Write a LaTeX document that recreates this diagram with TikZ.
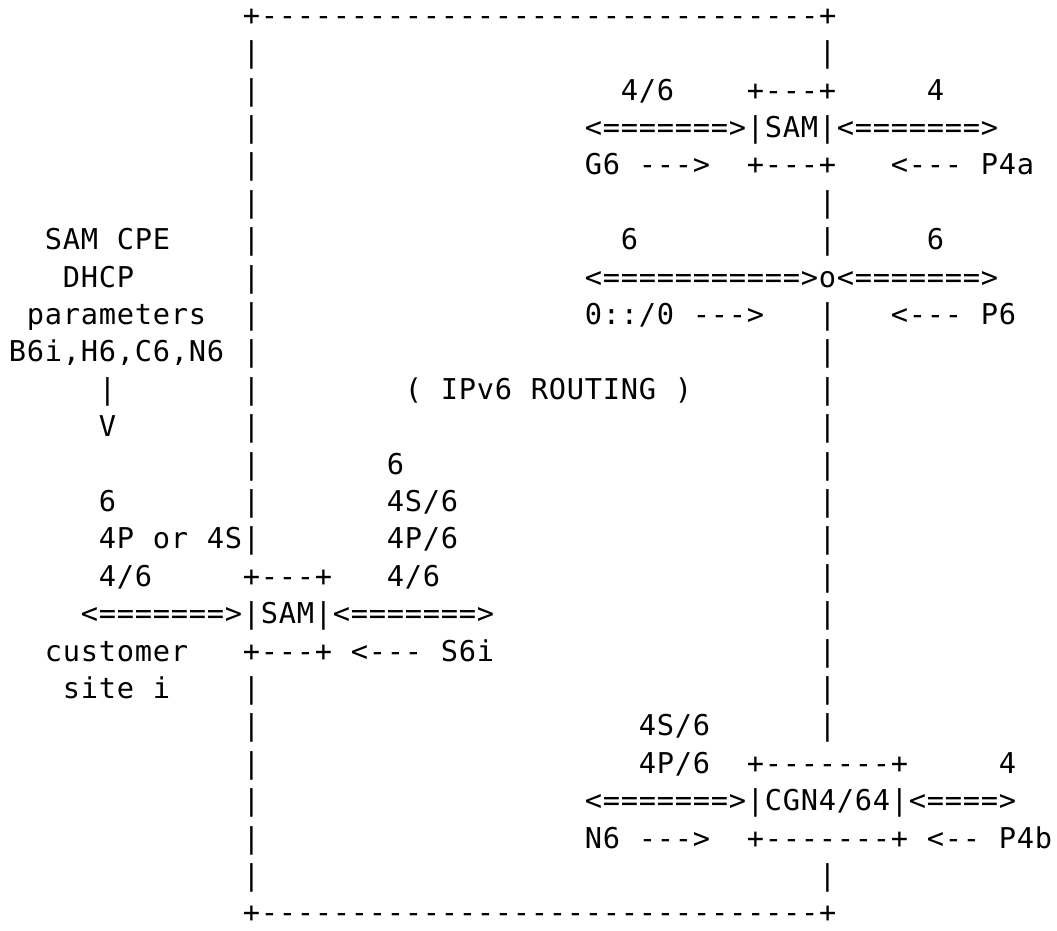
\documentclass[tikz,border=0pt]{standalone}
\usepackage{fontspec}
\setmonofont[LetterSpace=2.6]{DejaVu Sans Mono}
\tikzset{asc/.style={font=\ttfamily\fontsize{21.5pt}{25pt}\selectfont,inner sep=0pt,anchor=west,text height=14pt,text depth=0pt}}

\begin{document}
\begin{tikzpicture}[x=13.5pt,y=-28.05pt]
\useasboundingbox (-0.983,-0.428) rectangle (57.739,24.439);
\node[asc] (r0c13) at (12.5,0) {+-------------------------------+};
\node[asc] (r1c13) at (12.5,1) {|};
\node[asc] (r1c45) at (44.5,1) {|};
\node[asc] (r2c13) at (12.5,2) {|};
\node[asc] (r2c34) at (33.5,2) {4/6};
\node[asc] (r2c41) at (40.5,2) {+---+};
\node[asc] (r2c51) at (50.5,2) {4};
\node[asc] (r3c13) at (12.5,3) {|};
\node[asc] (r3c32) at (31.5,3) {<=======>|SAM|<=======>};
\node[asc] (r4c13) at (12.5,4) {|};
\node[asc] (r4c32) at (31.5,4) {G6};
\node[asc] (r4c35) at (34.5,4) {--->};
\node[asc] (r4c41) at (40.5,4) {+---+};
\node[asc] (r4c49) at (48.5,4) {<---};
\node[asc] (r4c54) at (53.5,4) {P4a};
\node[asc] (r5c13) at (12.5,5) {|};
\node[asc] (r5c45) at (44.5,5) {|};
\node[asc] (r6c2) at (1.5,6) {SAM};
\node[asc] (r6c6) at (5.5,6) {CPE};
\node[asc] (r6c13) at (12.5,6) {|};
\node[asc] (r6c34) at (33.5,6) {6};
\node[asc] (r6c45) at (44.5,6) {|};
\node[asc] (r6c51) at (50.5,6) {6};
\node[asc] (r7c3) at (2.5,7) {DHCP};
\node[asc] (r7c13) at (12.5,7) {|};
\node[asc] (r7c32) at (31.5,7) {<===========>o<=======>};
\node[asc] (r8c1) at (0.5,8) {parameters};
\node[asc] (r8c13) at (12.5,8) {|};
\node[asc] (r8c32) at (31.5,8) {0::/0};
\node[asc] (r8c38) at (37.5,8) {--->};
\node[asc] (r8c45) at (44.5,8) {|};
\node[asc] (r8c49) at (48.5,8) {<---};
\node[asc] (r8c54) at (53.5,8) {P6};
\node[asc] (r9c0) at (-0.5,9) {B6i,H6,C6,N6};
\node[asc] (r9c13) at (12.5,9) {|};
\node[asc] (r9c45) at (44.5,9) {|};
\node[asc] (r10c5) at (4.5,10) {|};
\node[asc] (r10c13) at (12.5,10) {|};
\node[asc] (r10c22) at (21.5,10) {(};
\node[asc] (r10c24) at (23.5,10) {IPv6};
\node[asc] (r10c29) at (28.5,10) {ROUTING};
\node[asc] (r10c37) at (36.5,10) {)};
\node[asc] (r10c45) at (44.5,10) {|};
\node[asc] (r11c5) at (4.5,11) {V};
\node[asc] (r11c13) at (12.5,11) {|};
\node[asc] (r11c45) at (44.5,11) {|};
\node[asc] (r12c13) at (12.5,12) {|};
\node[asc] (r12c21) at (20.5,12) {6};
\node[asc] (r12c45) at (44.5,12) {|};
\node[asc] (r13c5) at (4.5,13) {6};
\node[asc] (r13c13) at (12.5,13) {|};
\node[asc] (r13c21) at (20.5,13) {4S/6};
\node[asc] (r13c45) at (44.5,13) {|};
\node[asc] (r14c5) at (4.5,14) {4P};
\node[asc] (r14c8) at (7.5,14) {or};
\node[asc] (r14c11) at (10.5,14) {4S|};
\node[asc] (r14c21) at (20.5,14) {4P/6};
\node[asc] (r14c45) at (44.5,14) {|};
\node[asc] (r15c5) at (4.5,15) {4/6};
\node[asc] (r15c13) at (12.5,15) {+---+};
\node[asc] (r15c21) at (20.5,15) {4/6};
\node[asc] (r15c45) at (44.5,15) {|};
\node[asc] (r16c4) at (3.5,16) {<=======>|SAM|<=======>};
\node[asc] (r16c45) at (44.5,16) {|};
\node[asc] (r17c2) at (1.5,17) {customer};
\node[asc] (r17c13) at (12.5,17) {+---+};
\node[asc] (r17c19) at (18.5,17) {<---};
\node[asc] (r17c24) at (23.5,17) {S6i};
\node[asc] (r17c45) at (44.5,17) {|};
\node[asc] (r18c3) at (2.5,18) {site};
\node[asc] (r18c8) at (7.5,18) {i};
\node[asc] (r18c13) at (12.5,18) {|};
\node[asc] (r18c45) at (44.5,18) {|};
\node[asc] (r19c13) at (12.5,19) {|};
\node[asc] (r19c35) at (34.5,19) {4S/6};
\node[asc] (r19c45) at (44.5,19) {|};
\node[asc] (r20c13) at (12.5,20) {|};
\node[asc] (r20c35) at (34.5,20) {4P/6};
\node[asc] (r20c41) at (40.5,20) {+-------+};
\node[asc] (r20c55) at (54.5,20) {4};
\node[asc] (r21c13) at (12.5,21) {|};
\node[asc] (r21c32) at (31.5,21) {<=======>|CGN4/64|<====>};
\node[asc] (r22c13) at (12.5,22) {|};
\node[asc] (r22c32) at (31.5,22) {N6};
\node[asc] (r22c35) at (34.5,22) {--->};
\node[asc] (r22c41) at (40.5,22) {+-------+};
\node[asc] (r22c51) at (50.5,22) {<--};
\node[asc] (r22c55) at (54.5,22) {P4b};
\node[asc] (r23c13) at (12.5,23) {|};
\node[asc] (r23c45) at (44.5,23) {|};
\node[asc] (r24c13) at (12.5,24) {+-------------------------------+};
\end{tikzpicture}
\end{document}
